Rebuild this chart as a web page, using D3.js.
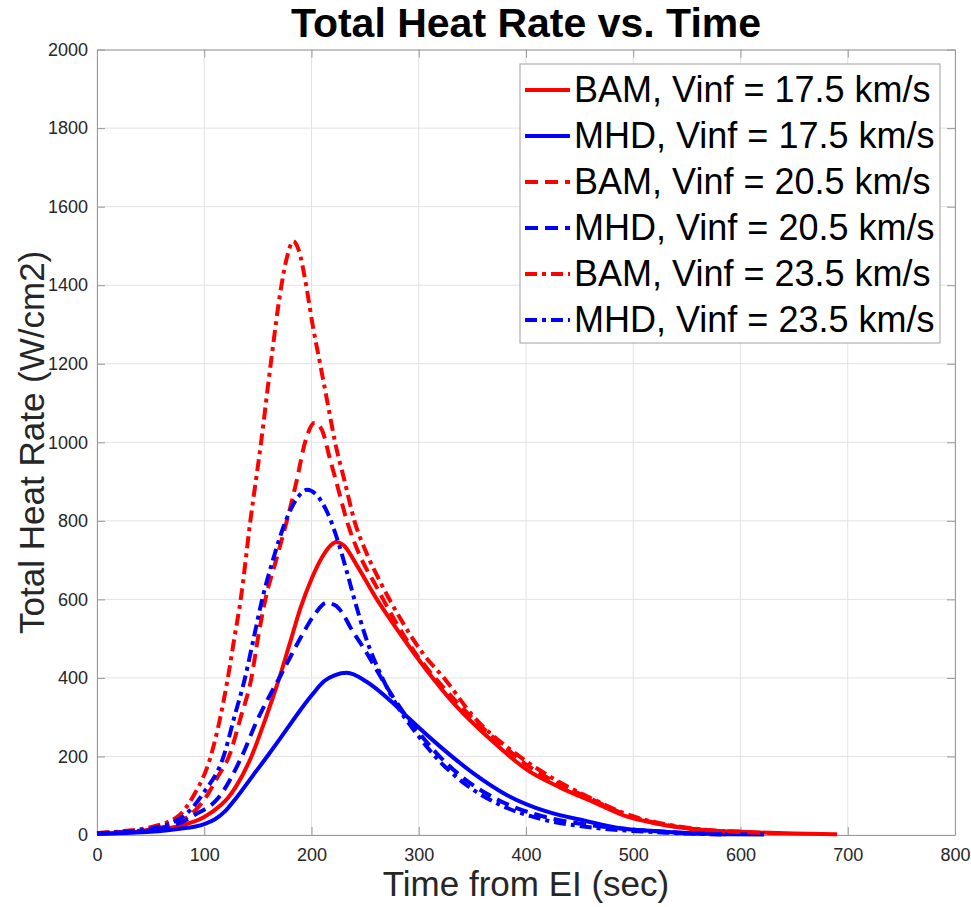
<!DOCTYPE html>
<html>
<head>
<meta charset="utf-8">
<script src="https://cdn.jsdelivr.net/npm/d3@7"></script>
<style>
  body { margin: 0; background: #fff; }
  svg { display: block; font-family: "Liberation Sans", Arial, sans-serif; }
</style>
</head>
<body>
<div id="chart"></div>
<script>
// Tick values
const xTicks = [0, 100, 200, 300, 400, 500, 600, 700, 800];
const yTicks = [0, 200, 400, 600, 800, 1000, 1200, 1400, 1600, 1800, 2000];

// Legend labels, in plotting order
const seriesNames = [
    "BAM, Vinf = 17.5 km/s",
    "MHD, Vinf = 17.5 km/s",
    "BAM, Vinf = 20.5 km/s",
    "MHD, Vinf = 20.5 km/s",
    "BAM, Vinf = 23.5 km/s",
    "MHD, Vinf = 23.5 km/s"
];

// [time (sec), heat rate (W/cm2)]
const bam175 = [[0,4],[25,6],[50,11],[75,22],[100,46],[115,75],[122,94],[130,125],[144,200],[157,295],[170,400],[180,490],[190,580],[200,652],[210,708],[218,738],[223,746],[230,738],[242,688],[261,600],[282,515],[307,421],[335,328],[367,243],[401,166],[431,122],[462,85],[493,48],[520,30],[549,17],[575,11],[600,8],[650,4],[690,2]];
const mhd175 = [[0,3],[25,5],[50,8],[75,15],[100,28],[110,40],[120,62],[130,95],[145,150],[160,205],[175,262],[188,312],[200,355],[212,392],[222,407],[233,413],[251,391],[276,336],[292,294],[320,225],[351,157],[382,102],[419,60],[454,37],[488,17],[520,10],[549,5],[590,2],[622,1]];
const bam205 = [[0,5],[25,8],[50,14],[75,32],[87,51],[100,90],[113,150],[123,200],[134,300],[144,400],[150,500],[157,600],[167,700],[177,800],[186,900],[194,1000],[203,1050],[210,1030],[217,960],[225,880],[233,800],[245,712],[259,640],[278,545],[299,455],[320,385],[350,298],[384,215],[401,178],[431,130],[462,90],[493,52],[549,18],[600,8],[640,4]];
const mhd205 = [[0,4],[25,7],[50,12],[75,28],[91,51],[113,94],[135,200],[149,290],[160,350],[170,400],[180,452],[191,508],[203,562],[214,591],[222,585],[230,560],[236,530],[250,470],[264,405],[280,335],[298,268],[316,210],[344,140],[375,88],[415,48],[450,29],[490,16],[530,8],[570,3],[590,2]];
const bam235 = [[0,5],[25,10],[50,20],[77,51],[90,100],[106,200],[115,300],[122,400],[128,500],[134,600],[143,800],[153,1000],[162,1200],[172,1400],[177,1470],[183,1512],[188,1490],[195,1400],[201,1300],[208,1200],[215,1100],[222,1000],[231,900],[240,800],[251,720],[264,645],[282,555],[304,462],[325,395],[350,305],[388,212],[410,170],[431,135],[462,92],[493,54],[549,19],[600,8]];
const mhd235 = [[0,4],[25,8],[50,16],[82,51],[100,110],[118,200],[128,300],[138,400],[146,500],[154,600],[164,700],[176,800],[186,855],[196,879],[205,865],[215,820],[225,745],[233,670],[240,600],[251,500],[266,400],[280,328],[298,258],[316,198],[344,128],[375,78],[415,40],[450,23],[490,12],[530,6],[570,2],[585,1]];

const seriesData = [bam175, mhd175, bam205, mhd205, bam235, mhd235];
const seriesColors = ["#ff0000", "#0000ff", "#ff0000", "#0000ff", "#ff0000", "#0000ff"];
const seriesDash = [null, null, "13,7", "13,7", "12,5,4,5", "12,5,4,5"];

const width = 971, height = 907;
const plot = { left: 97, right: 955, top: 49.6, bottom: 835 };

let svg = d3.select("#chart")
    .append("svg")
    .attr("width", width)
    .attr("height", height);

svg.append("rect").attr("width", width).attr("height", height).attr("fill", "#fff");

let x = d3.scaleLinear().domain([0, 800]).range([plot.left, plot.right]);
let y = d3.scaleLinear().domain([0, 2000]).range([plot.bottom, plot.top]);

// Grid
svg.append("g").selectAll("line")
    .data(xTicks)
    .enter().append("line")
    .attr("x1", d => x(d)).attr("x2", d => x(d))
    .attr("y1", plot.top).attr("y2", plot.bottom)
    .attr("stroke", "#e2e2e2").attr("stroke-width", 1);

svg.append("g").selectAll("line")
    .data(yTicks)
    .enter().append("line")
    .attr("x1", plot.left).attr("x2", plot.right)
    .attr("y1", d => y(d)).attr("y2", d => y(d))
    .attr("stroke", "#e2e2e2").attr("stroke-width", 1);

// Axes (ticks point inward, box on all sides)
function styleAxis(g) {
    g.select(".domain").attr("stroke", "#999");
    g.selectAll(".tick line").attr("stroke", "#999");
    g.selectAll("text").attr("fill", "#262626").style("font-size", "18px")
        .style("font-family", "'Liberation Sans', Arial, sans-serif");
}

svg.append("g")
    .attr("transform", `translate(0, ${plot.bottom})`)
    .call(d3.axisBottom(x).tickValues(xTicks).tickFormat(d3.format("d")).tickSizeInner(-8).tickSizeOuter(0).tickPadding(13))
    .call(styleAxis);

svg.append("g")
    .attr("transform", `translate(${plot.left}, 0)`)
    .call(d3.axisLeft(y).tickValues(yTicks).tickFormat(d3.format("d")).tickSizeInner(-8).tickSizeOuter(0).tickPadding(9))
    .call(styleAxis);

svg.append("g")
    .attr("transform", `translate(0, ${plot.top})`)
    .call(d3.axisTop(x).tickValues(xTicks).tickSizeInner(-8).tickSizeOuter(0).tickFormat(() => ""))
    .call(styleAxis);

svg.append("g")
    .attr("transform", `translate(${plot.right}, 0)`)
    .call(d3.axisRight(y).tickValues(yTicks).tickSizeInner(-8).tickSizeOuter(0).tickFormat(() => ""))
    .call(styleAxis);

// Lines
let line = d3.line()
    .x(d => x(d[0]))
    .y(d => y(d[1]))
    .curve(d3.curveMonotoneX);

seriesData.forEach((s, i) => {
    svg.append("path")
        .datum(s)
        .attr("fill", "none")
        .attr("stroke", seriesColors[i])
        .attr("stroke-width", 4)
        .attr("stroke-linejoin", "round")
        .attr("stroke-dasharray", seriesDash[i])
        .attr("d", line);
});

// Title and axis labels
svg.append("text")
    .attr("x", (plot.left + plot.right) / 2)
    .attr("y", 37)
    .attr("text-anchor", "middle")
    .style("font-size", "41px")
    .style("font-weight", "bold")
    .attr("fill", "#000")
    .text("Total Heat Rate vs. Time");

svg.append("text")
    .attr("x", (plot.left + plot.right) / 2)
    .attr("y", 896)
    .attr("text-anchor", "middle")
    .style("font-size", "35px")
    .attr("fill", "#262626")
    .text("Time from EI (sec)");

svg.append("text")
    .attr("transform", `translate(44, ${(plot.top + plot.bottom) / 2}) rotate(-90)`)
    .attr("text-anchor", "middle")
    .style("font-size", "35px")
    .attr("fill", "#262626")
    .text("Total Heat Rate (W/cm2)");

// Legend
let legend = svg.append("g");
legend.append("rect")
    .attr("x", 520).attr("y", 64)
    .attr("width", 420).attr("height", 279)
    .attr("fill", "#fff")
    .attr("stroke", "#a0a0a0").attr("stroke-width", 1);

seriesNames.forEach((name, i) => {
    let cy = 90 + i * 46;
    legend.append("line")
        .attr("x1", 525).attr("x2", 570)
        .attr("y1", cy).attr("y2", cy)
        .attr("stroke", seriesColors[i])
        .attr("stroke-width", 4)
        .attr("stroke-dasharray", seriesDash[i]);
    legend.append("text")
        .attr("x", 574)
        .attr("y", cy + 12)
        .style("font-size", "36px")
        .attr("fill", "#000")
        .text(name);
});
</script>
</body>
</html>
